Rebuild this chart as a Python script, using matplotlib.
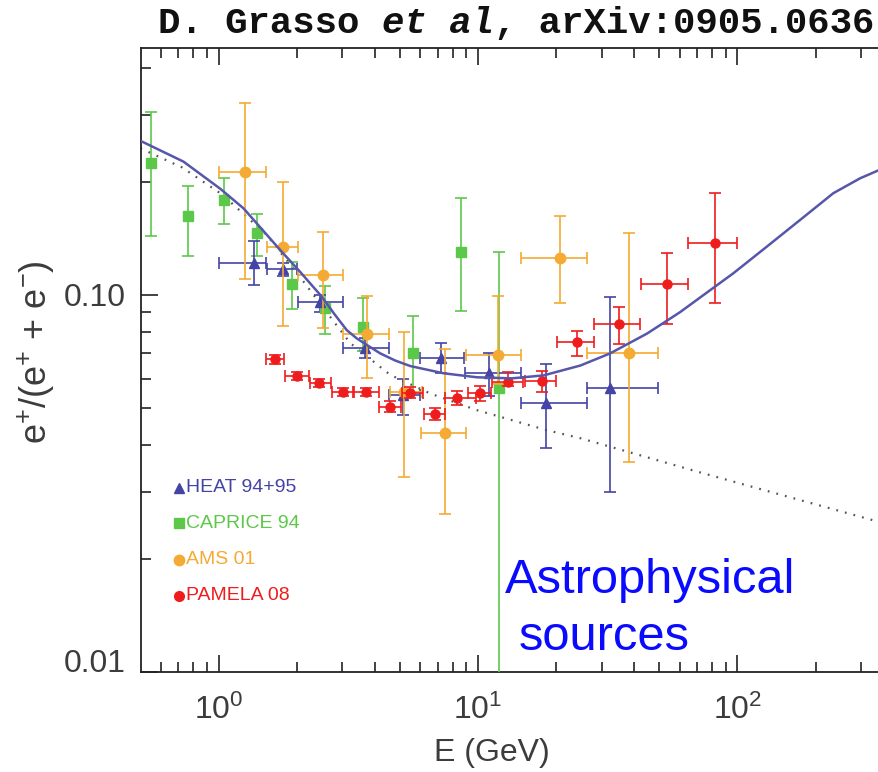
import matplotlib
matplotlib.use('Agg')
import matplotlib.pyplot as plt
from matplotlib.ticker import FixedLocator, NullFormatter

plt.rcParams['mathtext.fontset'] = 'custom'
plt.rcParams['mathtext.rm'] = 'Liberation Sans'
plt.rcParams['mathtext.it'] = 'Liberation Sans:italic'
plt.rcParams['font.family'] = ['Liberation Sans', 'DejaVu Sans']

# HEAT 94+95
heat_e = [1.37, 1.77, 2.47, 3.67, 5.16, 7.19, 10.98, 18.3, 32.3]
heat_e_lo = [1.006, 1.536, 2.02, 3.03, 4.52, 5.99, 8.94, 14.7, 26.2]
heat_e_hi = [1.527, 2.0, 3.03, 4.52, 5.99, 8.8, 14.7, 26.2, 49.2]
heat_r = [0.1218, 0.1172, 0.0956, 0.0722, 0.0543, 0.0679, 0.062, 0.0518, 0.0566]
heat_r_lo = [0.1063, 0.1125, 0.0903, 0.068, 0.0481, 0.062, 0.054, 0.0392, 0.0301]
heat_r_hi = [0.139, 0.1215, 0.100, 0.077, 0.0598, 0.0745, 0.070, 0.0655, 0.099]

# CAPRICE 94
cap_e = [0.549, 0.766, 1.054, 1.413, 1.923, 2.58, 3.60, 5.64, 8.62, 12.1]
cap_r = [0.2245, 0.1623, 0.1786, 0.1458, 0.1067, 0.0922, 0.0821, 0.0703, 0.1303, 0.0565]
cap_r_lo = [0.143, 0.127, 0.154, 0.127, 0.0918, 0.0787, 0.071, 0.0554, 0.0907, 0.002]
cap_r_hi = [0.306, 0.1945, 0.2047, 0.164, 0.122, 0.1058, 0.098, 0.088, 0.1804, 0.1303]

# AMS 01
ams_e = [1.267, 1.771, 2.524, 3.75, 5.2, 7.48, 11.9, 20.7, 38.2]
ams_e_lo = [1.006, 1.536, 2.02, 3.03, 4.56, 6.02, 9.0, 14.7, 26.2]
ams_e_hi = [1.527, 2.016, 3.03, 4.52, 6.07, 9.0, 14.7, 26.2, 49.3]
ams_r = [0.212, 0.1343, 0.113, 0.0787, 0.0554, 0.043, 0.0693, 0.125, 0.0703]
ams_r_lo = [0.1103, 0.0829, 0.0819, 0.0601, 0.033, 0.0262, 0.058, 0.0954, 0.0361]
ams_r_hi = [0.3226, 0.1998, 0.1467, 0.0994, 0.0799, 0.0718, 0.0994, 0.1623, 0.146]

# PAMELA 08
pam_e = [1.654, 2.005, 2.45, 3.02, 3.71, 4.56, 5.45, 6.84, 8.29, 10.2, 13.1, 17.6,
         24.0, 35.0, 53.4, 82.0]
pam_e_lo = [1.527, 1.80, 2.26, 2.74, 3.33, 4.17, 5.09, 6.2, 7.43, 9.19, 11.3, 15.2,
            20.1, 28.0, 42.4, 64.4]
pam_e_hi = [1.795, 2.24, 2.72, 3.29, 4.14, 5.04, 6.13, 7.43, 9.8, 11.2, 14.9, 20.0,
            28.0, 42.2, 64.4, 99.2]
pam_r = [0.0675, 0.061, 0.0585, 0.0554, 0.0554, 0.0505, 0.0551, 0.0483, 0.0532,
         0.0548, 0.0589, 0.0593, 0.0749, 0.0836, 0.1067, 0.1376]
pam_r_lo = [0.0655, 0.0595, 0.057, 0.054, 0.054, 0.0488, 0.0532, 0.0465, 0.051,
            0.0522, 0.0572, 0.0554, 0.069, 0.074, 0.0838, 0.0954]
pam_r_hi = [0.0695, 0.0625, 0.060, 0.0568, 0.0568, 0.0522, 0.057, 0.050, 0.0555,
            0.0575, 0.0624, 0.063, 0.0804, 0.0931, 0.129, 0.187]

# model with astrophysical sources (solid) and secondary only (dotted)
model_e = [0.499, 0.733, 1.015, 1.248, 1.729, 2.06, 2.50, 2.8, 3.12, 3.41, 3.73, 4.2,
           4.8, 5.48, 7.36, 9.9, 13.5, 17.9, 24.8, 32.3, 44.8, 60, 71.8, 96.4, 129.6,
           174, 234, 297, 352]
model_r = [0.2566, 0.2258, 0.1914, 0.1698, 0.1316, 0.1153, 0.099, 0.0889, 0.0807,
           0.0767, 0.0737, 0.070, 0.067, 0.0648, 0.062, 0.0605, 0.0601, 0.0612, 0.065,
           0.070, 0.079, 0.090, 0.0985, 0.1142, 0.1343, 0.158, 0.1862, 0.204, 0.2146]
sec_e = [0.50, 0.723, 1.03, 1.536, 2.126, 2.69, 3.22, 4.59, 6.54, 9.9, 18.4, 24.8, 70, 352]
sec_r = [0.245, 0.218, 0.185, 0.1442, 0.1085, 0.0876, 0.0745, 0.0614, 0.0548, 0.0495,
         0.0438, 0.0417, 0.034, 0.025]

legend_names = ['HEAT 94+95', 'CAPRICE 94', 'AMS 01', 'PAMELA 08']

BLUE = '#4444a6'
GREEN = '#5cc84a'
ORANGE = '#f4aa33'
RED = '#ee1c1c'
GRAY = '#3c3c3c'


def bounds(v, lo, hi):
    return [[a - b for a, b in zip(v, lo)], [b - a for a, b in zip(v, hi)]]


fig = plt.figure(figsize=(8.79, 7.72), dpi=100)
ax = fig.add_axes([141 / 879, 100 / 772, 738 / 879, 624 / 772])

ax.plot(sec_e, sec_r, color='#555555', lw=1.6, linestyle=(0, (0.8, 3.2)), zorder=2)

ekw = dict(elinewidth=1.2, capthick=1.2, capsize=4.3, linestyle='none')
ax.errorbar(cap_e, cap_r, yerr=bounds(cap_r, cap_r_lo, cap_r_hi), color=GREEN,
            marker='s', ms=7.5, zorder=3, **ekw)
ax.errorbar(heat_e, heat_r, xerr=bounds(heat_e, heat_e_lo, heat_e_hi),
            yerr=bounds(heat_r, heat_r_lo, heat_r_hi), color=BLUE, marker='^', ms=6.5,
            zorder=3, **ekw)
ax.errorbar(ams_e, ams_r, xerr=bounds(ams_e, ams_e_lo, ams_e_hi),
            yerr=bounds(ams_r, ams_r_lo, ams_r_hi), color=ORANGE, marker='o', ms=7.5,
            zorder=4, **ekw)
ax.errorbar(pam_e, pam_r, xerr=bounds(pam_e, pam_e_lo, pam_e_hi),
            yerr=bounds(pam_r, pam_r_lo, pam_r_hi), color=RED, marker='o', ms=6.5,
            zorder=5, **ekw)
ax.plot(model_e, model_r, color='#5656aa', lw=1.8, zorder=6)

ax.set_xscale('log')
ax.set_yscale('log')
ax.set_xlim(0.5027, 351)
ax.set_ylim(0.01, 0.452)

ax.xaxis.set_major_locator(FixedLocator([1, 10, 100]))
ax.set_xticklabels([r'$\mathregular{10^{0}}$', r'$\mathregular{10^{1}}$',
                    r'$\mathregular{10^{2}}$'])
ax.yaxis.set_major_locator(FixedLocator([0.01, 0.1]))
ax.set_yticklabels(['0.01', '0.10'])
ax.yaxis.set_minor_formatter(NullFormatter())
ax.xaxis.set_minor_formatter(NullFormatter())

ax.tick_params(which='both', direction='in', top=True, right=False, width=1.2,
               color='#222222', labelcolor=GRAY, labelsize=23)
ax.tick_params(which='major', length=12)
ax.tick_params(which='minor', length=7)
ax.tick_params(axis='x', pad=16)
ax.tick_params(axis='y', pad=11)
ax.get_yticklabels()[0].set_verticalalignment('baseline')
for s in ['left', 'bottom', 'top']:
    ax.spines[s].set_color('#222222')
    ax.spines[s].set_linewidth(1.3)
ax.spines['right'].set_visible(False)

fig.text(36 / 879, 1 - 352 / 772, r'e$^{+}$/(e$^{+}$ + e$^{-}$)', rotation=90,
         ha='center', va='center', fontsize=26, color=GRAY)
fig.text(492 / 879, 1 - 753 / 772, 'E (GeV)', ha='center', va='center', fontsize=23,
         color=GRAY)

# hand drawn legend
leg_y = [0.295, 0.238, 0.180, 0.122]
leg_style = [('^', BLUE, 7), ('s', GREEN, 7.5), ('o', ORANGE, 7.5), ('o', RED, 7)]
for name, yy, (mk, col, ms) in zip(legend_names, leg_y, leg_style):
    ax.plot([0.052], [yy], marker=mk, color=col, ms=ms, transform=ax.transAxes,
            clip_on=False, linestyle='none')
    ax.text(0.061, yy, name, color=col, fontsize=14, ha='left', va='center',
            transform=ax.transAxes)

# blue annotation
fig.text(505 / 879, 1 - 593 / 772, 'Astrophysical', color='#0a0aff', fontsize=35.2,
         ha='left', va='baseline')
fig.text(519 / 879, 1 - 650 / 772, 'sources', color='#0a0aff', fontsize=35.2,
         ha='left', va='baseline')

# title, monospace bold with italic "et al"
fs = 26.9
cw = 0.6 * fs * 100 / 72
x0 = 158
tkw = dict(fontsize=fs, family='Liberation Mono', weight='bold', va='baseline',
           color='#111111')
fig.text(x0 / 879, 1 - 33 / 772, 'D. Grasso', **tkw)
fig.text((x0 + 10 * cw) / 879, 1 - 33 / 772, 'et al', style='italic', **tkw)
fig.text((x0 + 15 * cw) / 879, 1 - 33 / 772, ', arXiv:0905.0636', **tkw)

fig.savefig('out.png', dpi=100)
